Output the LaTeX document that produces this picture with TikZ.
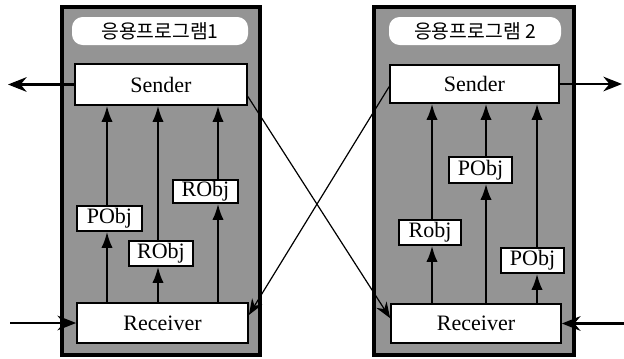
\documentclass[tikz,border=0pt]{standalone}
\usepackage{fontspec}
\newfontfamily\kofont{Noto Sans CJK KR}
\newfontfamily\boxfont{Liberation Serif}
\usetikzlibrary{arrows.meta}
\begin{document}
\begin{tikzpicture}[x=0.75pt,y=-0.75pt,
  panel/.style={draw=black, line width=2.3pt, fill=black!42, inner sep=0pt},
  titlebox/.style={fill=white, rounded corners=8pt, inner sep=0pt, font=\kofont\fontsize{14.5}{17}\selectfont},
  box/.style={draw=black, line width=1.3pt, fill=white, inner sep=0pt, font=\boxfont\fontsize{16.5}{19}\selectfont},
  flow/.style={line width=1.6pt, -{Latex[length=12pt,width=8.5pt]}},
  ext/.style={line width=1.6pt, -{Stealth[length=14pt,width=11pt]}},
  cross/.style={line width=0.9pt, -{Stealth[length=12pt,width=9pt]}}]
\useasboundingbox (0,0) rectangle (624,358);
% panels
\node[panel, minimum width=148.5pt, minimum height=261pt] (PanL) at (161,181) {};
\node[panel, minimum width=150pt, minimum height=261pt] (PanR) at (474,181) {};
\node[titlebox, minimum width=132pt, minimum height=21pt] (TL) at (160,31) {응용프로그램1};
\node[titlebox, minimum width=129pt, minimum height=21pt] (TR) at (475,31) {응용프로그램 2};
% left boxes
\node[box, minimum width=129pt, minimum height=30.75pt] (SL) at (161,84.5) {Sender};
\node[box, minimum width=128.25pt, minimum height=30pt] (RL) at (162.5,323) {Receiver};
\node[box, minimum width=48.75pt, minimum height=18.75pt] (PL) at (109.5,218.5) {PObj};
\node[box, minimum width=48pt, minimum height=18.75pt] (RL2) at (161,253.5) {RObj};
\node[box, minimum width=48.75pt, minimum height=17.25pt] (RL3) at (205.5,191.5) {RObj};
% right boxes
\node[box, minimum width=126.75pt, minimum height=28.5pt] (SR) at (474.5,84) {Sender};
\node[box, minimum width=127.5pt, minimum height=29.25pt] (RR) at (476,323.5) {Receiver};
\node[box, minimum width=46.5pt, minimum height=18.75pt] (RO) at (430,232.5) {Robj};
\node[box, minimum width=47.25pt, minimum height=19.5pt] (PR1) at (480.5,170) {PObj};
\node[box, minimum width=47.25pt, minimum height=18.75pt] (PR2) at (532.5,260.5) {PObj};
% column coordinates
\coordinate (xa1) at (107,0);
\coordinate (xa2) at (158,0);
\coordinate (xa3) at (218,0);
\coordinate (xb1) at (432,0);
\coordinate (xb2) at (486,0);
\coordinate (xb3) at (537,0);
% left flows
\draw[flow] (RL.north -| xa1) -- (PL.south -| xa1);
\draw[flow] (PL.north -| xa1) -- (SL.south -| xa1);
\draw[flow] (RL.north -| xa2) -- (RL2.south -| xa2);
\draw[flow] (RL2.north -| xa2) -- (SL.south -| xa2);
\draw[flow] (RL.north -| xa3) -- (RL3.south -| xa3);
\draw[flow] (RL3.north -| xa3) -- (SL.south -| xa3);
% right flows
\draw[flow] (RR.north -| xb1) -- (RO.south -| xb1);
\draw[flow] (RO.north -| xb1) -- (SR.south -| xb1);
\draw[flow] (RR.north -| xb2) -- (PR1.south -| xb2);
\draw[flow] (PR1.north -| xb2) -- (SR.south -| xb2);
\draw[flow] (RR.north -| xb3) -- (PR2.south -| xb3);
\draw[flow] (PR2.north -| xb3) -- (SR.south -| xb3);
% external
\coordinate (eL1) at (8,84.5);
\coordinate (eL2) at (10,323);
\coordinate (eR1) at (622,84);
\coordinate (eR2) at (624,323.5);
\draw[ext] (SL.west) -- (eL1);
\draw[ext] (eL2) -- (RL.west);
\draw[ext] (SR.east) -- (eR1);
\draw[ext] (eR2) -- (RR.east);
% cross
\draw[cross] ([yshift=-9pt]SL.east) -- ([yshift=4pt]RR.west);
\draw[cross] ([yshift=-2pt]SR.west) -- ([yshift=6pt]RL.east);
\end{tikzpicture}
\end{document}
